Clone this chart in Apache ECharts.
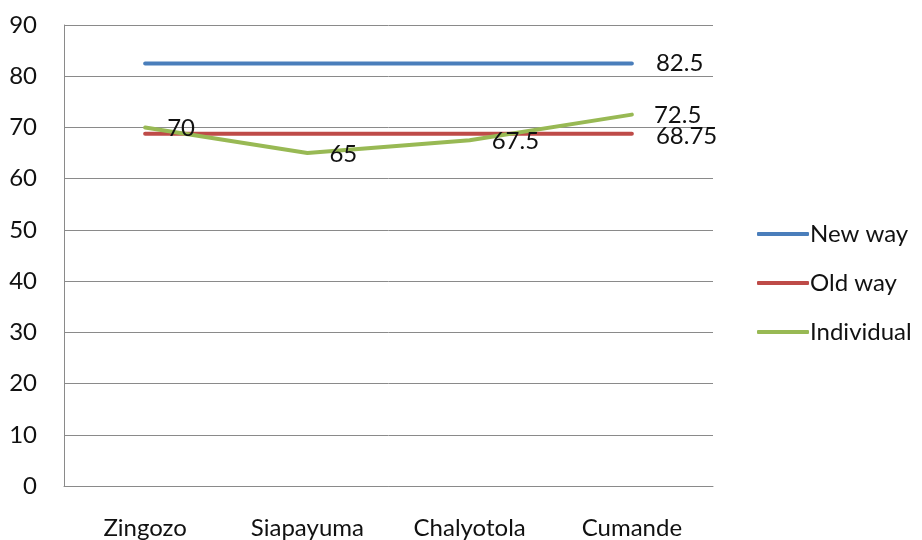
<!DOCTYPE html>
<html>
<head>
<meta charset="utf-8">
<script src="https://cdn.jsdelivr.net/npm/echarts@6/dist/echarts.min.js"></script>
<style>
  html, body { margin: 0; padding: 0; background: #fff; }
  #chart { width: 922px; height: 540px; }
</style>
</head>
<body>
<div id="chart"></div>
<script>
var categories = ['Zingozo', 'Siapayuma', 'Chalyotola', 'Cumande']
var newWay = [82.5, 82.5, 82.5, 82.5]
var oldWay = [68.75, 68.75, 68.75, 68.75]
var individual = [70, 65, 67.5, 72.5]

var fontName = 'Lato, "Open Sans", sans-serif'

// only the last point gets a label
function lastOnly(values) {
  return values.map(function(v, i) {
    return { value: v, label: { show: i === values.length - 1 } }
  })
}

var chart = echarts.init(document.getElementById('chart'))
chart.setOption({
  animation: false,
  textStyle: { fontFamily: fontName },
  grid: { left: 64, top: 25, right: 209, bottom: 54 },
  legend: {
    orient: 'vertical',
    left: 752,
    top: 217,
    itemWidth: 52,
    itemHeight: 4,
    itemGap: 25,
    icon: 'roundRect',
    textStyle: { fontSize: 24, color: '#111', fontFamily: fontName, padding: [0, 0, 0, -4] },
    data: ['New way', 'Old way', 'Individual']
  },
  xAxis: {
    type: 'category',
    data: categories,
    boundaryGap: true,
    axisLine: { lineStyle: { color: '#8a8a8a', width: 1 } },
    axisTick: { show: false },
    axisLabel: { fontSize: 24, color: '#111', margin: 30 }
  },
  yAxis: {
    type: 'value',
    min: 0,
    max: 90,
    interval: 10,
    axisLine: { show: true, lineStyle: { color: '#8a8a8a' } },
    axisTick: { show: false },
    axisLabel: { fontSize: 24, color: '#111', margin: 27 },
    splitLine: { lineStyle: { color: '#8a8a8a' } }
  },
  series: [
    {
      name: 'New way',
      type: 'line',
      data: lastOnly(newWay),
      symbol: 'circle',
      symbolSize: 0,
      lineStyle: { color: '#4a7ebb', width: 4, cap: 'round' },
      itemStyle: { color: '#4a7ebb' },
      label: { position: 'right', distance: 24, fontSize: 24, color: '#111' }
    },
    {
      name: 'Old way',
      type: 'line',
      data: lastOnly(oldWay),
      symbol: 'circle',
      symbolSize: 0,
      lineStyle: { color: '#be4b48', width: 4, cap: 'round' },
      itemStyle: { color: '#be4b48' },
      label: { position: 'right', distance: 24, fontSize: 24, color: '#111', offset: [0, 2] }
    },
    {
      name: 'Individual',
      type: 'line',
      data: individual,
      symbol: 'circle',
      symbolSize: 0,
      lineStyle: { color: '#98b954', width: 4, cap: 'round' },
      itemStyle: { color: '#98b954' },
      label: { show: true, position: 'right', distance: 22, fontSize: 24, color: '#111', offset: [0, 1] }
    }
  ]
})
</script>
</body>
</html>
